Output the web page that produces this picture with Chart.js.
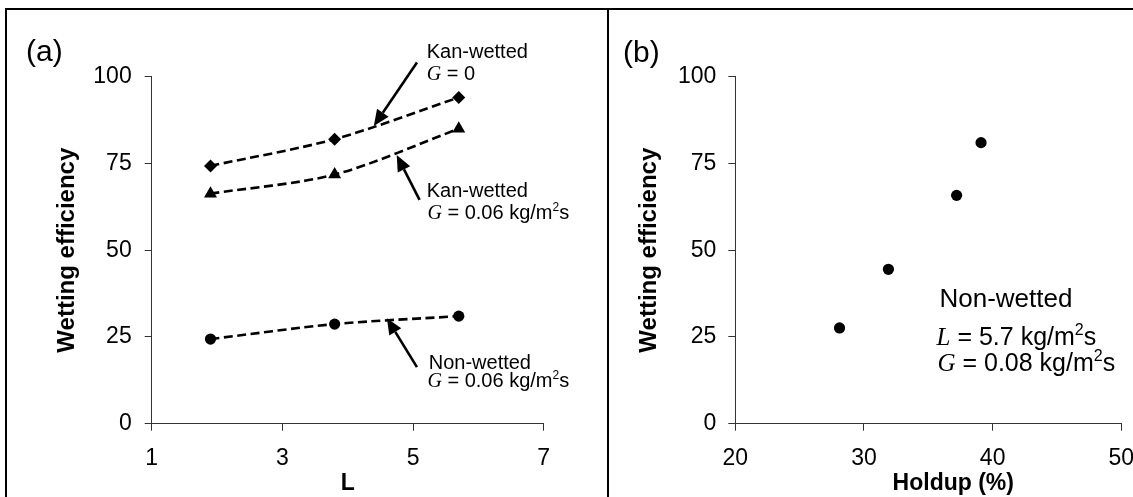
<!DOCTYPE html>
<html>
<head>
<meta charset="utf-8">
<script src="https://cdn.jsdelivr.net/npm/chart.js@4.4.1/dist/chart.umd.min.js"></script>
<style>
  html, body { margin: 0; padding: 0; background: #fff; }
  #page { position: relative; width: 1133px; height: 497px; overflow: hidden; background: #fff; }
  canvas { position: absolute; top: 0; }
  #cA { left: 0; }
  #cB { left: 609px; }
  .frame { position: absolute; left: 5px; top: 8px; width: 1300px; height: 600px;
           border-left: 2px solid #000; border-top: 2px solid #000; }
  .divider { position: absolute; left: 607px; top: 8px; width: 2px; height: 600px; background: #000; }
</style>
</head>
<body>
<div id="page">
  <div class="frame"></div>
  <div class="divider"></div>
  <canvas id="cA" width="607" height="497"></canvas>
  <canvas id="cB" width="524" height="497"></canvas>
</div>
<script>
// Panel (a): wetting efficiency against liquid flux L
const fluxL = [1.9, 3.8, 5.7];
const kanWettedG0 = [74.3, 82.0, 94.0];
const kanWettedG006 = [66.3, 71.8, 85.0];
const nonWettedG006 = [24.4, 28.7, 31.0];

// Panel (b): non-wetted bed, wetting efficiency against holdup
const holdup = [28.1, 31.9, 37.2, 39.1];
const nonWettedEff = [27.6, 44.5, 65.8, 81.0];

// Axis ticks
const effTicks = [0, 25, 50, 75, 100];
const fluxTicks = [1, 3, 5, 7];
const holdupTicks = [20, 30, 40, 50];

const SANS = "'Liberation Sans', Arial, Helvetica, sans-serif";
const SERIF = "'Liberation Serif', 'Times New Roman', serif";

Chart.defaults.font.family = SANS;
Chart.defaults.color = '#000';

const pts = (xs, ys) => xs.map((x, i) => ({ x, y: ys[i] }));

// Text runs: 'sans', 'ital' (serif italic symbol), 'sup' (superscript)
function drawRich(ctx, x, y, parts, size) {
  let cx = x;
  for (const [txt, kind] of parts) {
    let dy = 0;
    if (kind === 'ital') ctx.font = `italic ${size}px ${SERIF}`;
    else if (kind === 'sup') { ctx.font = `${Math.round(size * 0.62)}px ${SANS}`; dy = -size * 0.4; }
    else ctx.font = `${size}px ${SANS}`;
    ctx.fillText(txt, cx, y + dy);
    cx += ctx.measureText(txt).width;
  }
}

function drawArrow(ctx, x1, y1, x2, y2) {
  const ang = Math.atan2(y2 - y1, x2 - x1);
  const headLen = 16, headW = 7;
  const bx = x2 - Math.cos(ang) * headLen, by = y2 - Math.sin(ang) * headLen;
  ctx.beginPath();
  ctx.moveTo(x1, y1);
  ctx.lineTo(bx, by);
  ctx.lineWidth = 2.6;
  ctx.strokeStyle = '#000';
  ctx.stroke();
  ctx.beginPath();
  ctx.moveTo(x2, y2);
  ctx.lineTo(bx + Math.sin(ang) * headW, by - Math.cos(ang) * headW);
  ctx.lineTo(bx - Math.sin(ang) * headW, by + Math.cos(ang) * headW);
  ctx.closePath();
  ctx.fillStyle = '#000';
  ctx.fill();
}

// Draws panel letter, callout labels, arrows and any free axis title
const notesPlugin = {
  id: 'notes',
  afterDraw(chart, args, opts) {
    const ctx = chart.ctx;
    const xs = chart.scales.x, ys = chart.scales.y;
    ctx.save();
    ctx.textBaseline = 'alphabetic';
    ctx.textAlign = 'left';
    ctx.fillStyle = '#000';
    if (opts.panel) {
      ctx.font = `${opts.panel.size}px ${SANS}`;
      ctx.fillText(opts.panel.text, opts.panel.x, opts.panel.y);
    }
    for (const a of (opts.arrows || [])) {
      drawArrow(ctx,
        xs.getPixelForValue(a.from[0]), ys.getPixelForValue(a.from[1]),
        xs.getPixelForValue(a.to[0]), ys.getPixelForValue(a.to[1]));
    }
    ctx.fillStyle = '#000';
    for (const n of (opts.labels || [])) {
      drawRich(ctx, xs.getPixelForValue(n.x), ys.getPixelForValue(n.y), n.parts, n.size);
    }
    if (opts.xTitle) {
      ctx.font = `bold ${opts.xTitle.size}px ${SANS}`;
      ctx.textAlign = 'center';
      ctx.textBaseline = 'middle';
      ctx.fillText(opts.xTitle.text, (chart.chartArea.left + chart.chartArea.right) / 2 + opts.xTitle.shift, opts.xTitle.y);
    }
    ctx.restore();
  }
};

function axisX(min, max, ticks, title) {
  return {
    type: 'linear', min, max,
    afterBuildTicks: s => { s.ticks = ticks.map(v => ({ value: v })); },
    afterFit: s => { s.height = 73.3; s.paddingLeft = 0; s.paddingRight = 0; },
    grid: { display: true, drawOnChartArea: false, drawTicks: true, tickLength: 7, tickColor: '#333', tickWidth: 1 },
    border: { display: true, color: '#333', width: 1 },
    ticks: { font: { size: 23 }, padding: 14.5, color: '#000', maxRotation: 0 },
    title: title ? { display: true, text: title, font: { size: 23, weight: 'bold' }, padding: { top: 0, bottom: 0 }, color: '#000' } : { display: false }
  };
}

function axisY(width, titlePad, labelPad) {
  return {
    type: 'linear', min: 0, max: 100,
    afterBuildTicks: s => { s.ticks = effTicks.map(v => ({ value: v })); },
    afterFit: s => { s.width = width; s.paddingTop = 0; s.paddingBottom = 0; },
    grid: { display: true, drawOnChartArea: false, drawTicks: true, tickLength: 7, tickColor: '#333', tickWidth: 1 },
    border: { display: true, color: '#333', width: 1 },
    ticks: { font: { size: 23 }, padding: labelPad, color: '#000' },
    title: { display: true, text: 'Wetting efficiency', font: { size: 24, weight: 'bold' }, padding: { top: titlePad, bottom: 0 }, color: '#000' }
  };
}

const common = {
  responsive: false,
  animation: false,
  events: [],
  plugins: { legend: { display: false }, tooltip: { enabled: false } }
};

const lineStyle = { showLine: true, borderColor: '#000', borderWidth: 2.6, borderDash: [9, 4.5], tension: 0.3,
                    pointBackgroundColor: '#000', pointBorderColor: '#000', pointBorderWidth: 0 };

new Chart(document.getElementById('cA'), {
  type: 'scatter',
  data: {
    datasets: [
      { ...lineStyle, label: 'Kan-wetted, G = 0', data: pts(fluxL, kanWettedG0), pointStyle: 'rectRot', pointRadius: 6.5 },
      { ...lineStyle, label: 'Kan-wetted, G = 0.06', data: pts(fluxL, kanWettedG006), pointStyle: 'triangle', pointRadius: 7.5 },
      { ...lineStyle, label: 'Non-wetted, G = 0.06', data: pts(fluxL, nonWettedG006), pointStyle: 'circle', pointRadius: 5.6 }
    ]
  },
  options: {
    ...common,
    layout: { autoPadding: false, padding: { left: 0, right: 63.3, top: 76.7, bottom: 0 } },
    scales: { x: axisX(1, 7, fluxTicks, 'L'), y: axisY(151.7, 53.3, 13) },
    plugins: {
      ...common.plugins,
      notes: {
        panel: { text: '(a)', x: 26, y: 61, size: 30 },
        arrows: [
          { from: [5.06, 104.1], to: [4.40, 85.8] },
          { from: [5.10, 64.5], to: [4.75, 77.4] },
          { from: [5.06, 16.3], to: [4.60, 30.4] }
        ],
        labels: [
          { x: 5.21, y: 105.5, size: 20, parts: [['Kan-wetted', 'sans']] },
          { x: 5.21, y: 99.0, size: 20, parts: [['G', 'ital'], [' = 0', 'sans']] },
          { x: 5.21, y: 65.2, size: 20, parts: [['Kan-wetted', 'sans']] },
          { x: 5.22, y: 59.0, size: 20, parts: [['G', 'ital'], [' = 0.06 kg/m', 'sans'], ['2', 'sup'], ['s', 'sans']] },
          { x: 5.24, y: 15.8, size: 20, parts: [['Non-wetted', 'sans']] },
          { x: 5.22, y: 10.6, size: 20, parts: [['G', 'ital'], [' = 0.06 kg/m', 'sans'], ['2', 'sup'], ['s', 'sans']] }
        ]
      }
    }
  },
  plugins: [notesPlugin]
});

new Chart(document.getElementById('cB'), {
  type: 'scatter',
  data: {
    datasets: [
      { label: 'Non-wetted', data: pts(holdup, nonWettedEff), pointStyle: 'circle', pointRadius: 5.6,
        pointBackgroundColor: '#000', pointBorderColor: '#000', pointBorderWidth: 0, showLine: false }
    ]
  },
  options: {
    ...common,
    layout: { autoPadding: false, padding: { left: 0, right: 11.7, top: 76.7, bottom: 0 } },
    scales: { x: axisX(20, 50, holdupTicks, null), y: axisY(126.3, 26, 12) },
    plugins: {
      ...common.plugins,
      notes: {
        panel: { text: '(b)', x: 14, y: 62, size: 30 },
        xTitle: { text: 'Holdup (%)', size: 23, y: 483.8, shift: 25 },
        labels: [
          { x: 35.87, y: 33.6, size: 26, parts: [['Non-wetted', 'sans']] },
          { x: 35.64, y: 22.7, size: 25, parts: [['L', 'ital'], [' = 5.7 kg/m', 'sans'], ['2', 'sup'], ['s', 'sans']] },
          { x: 35.71, y: 15.2, size: 25, parts: [['G', 'ital'], [' = 0.08 kg/m', 'sans'], ['2', 'sup'], ['s', 'sans']] }
        ]
      }
    }
  },
  plugins: [notesPlugin]
});
</script>
</body>
</html>
